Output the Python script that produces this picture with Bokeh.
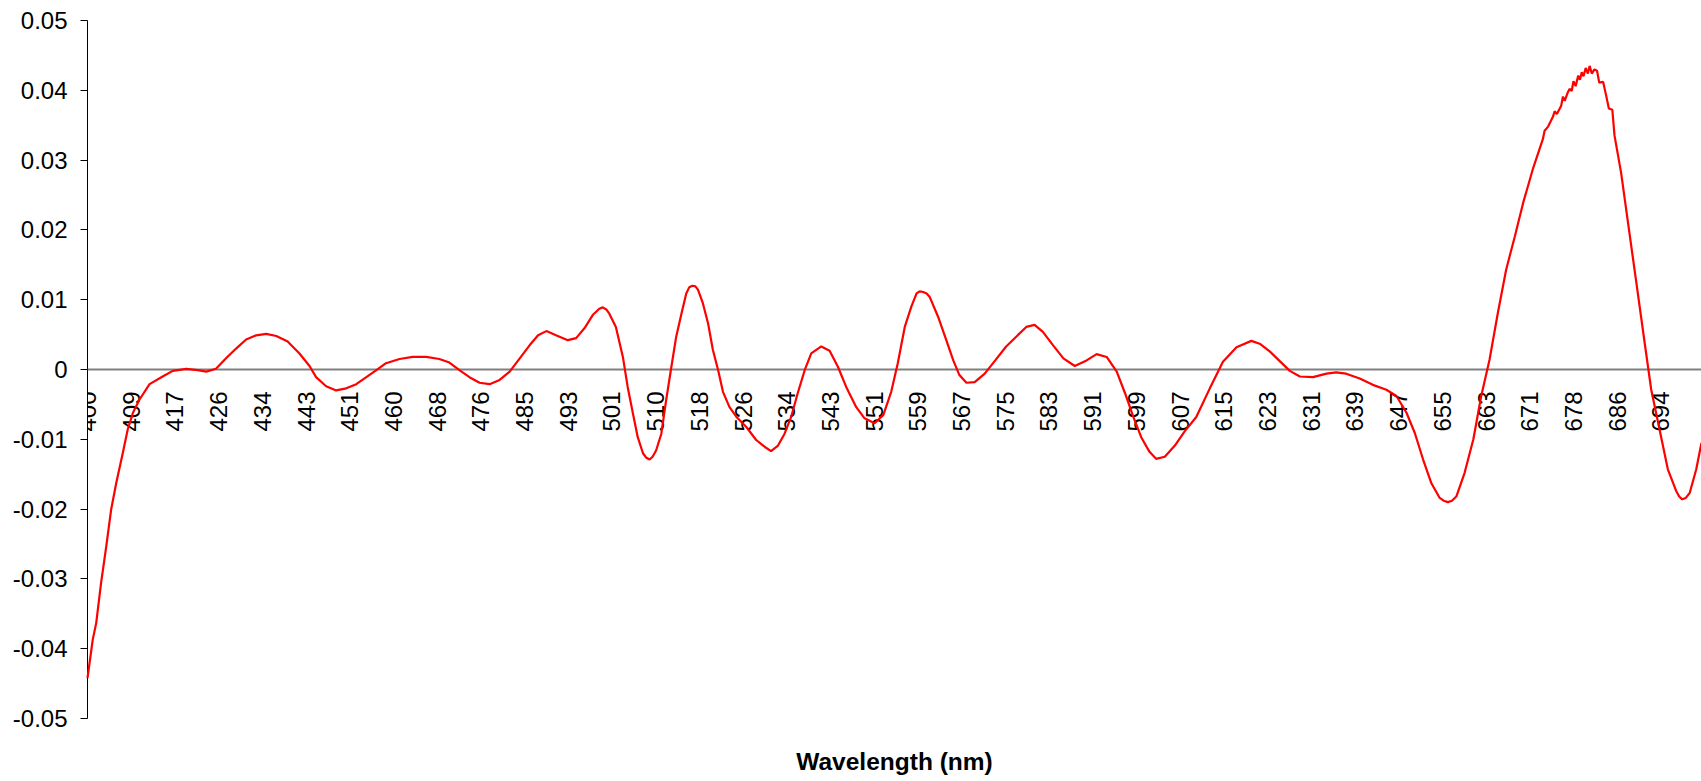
from math import pi
from bokeh.plotting import figure
from bokeh.models import Range1d, LinearAxis, FixedTicker, Span, LabelSet, ColumnDataSource
from bokeh.core.properties import value
from bokeh.embed import file_html
from bokeh.resources import INLINE

# ---- data ----
tick_labels = ["400", "409", "417", "426", "434", "443", "451", "460", "468", "476",
               "485", "493", "501", "510", "518", "526", "534", "543", "551", "559",
               "567", "575", "583", "591", "599", "607", "615", "623", "631", "639",
               "647", "655", "663", "671", "678", "686", "694"]

y_ticks = [-0.05, -0.04, -0.03, -0.02, -0.01, 0, 0.01, 0.02, 0.03, 0.04, 0.05]
y_tick_labels = ["-0.05", "-0.04", "-0.03", "-0.02", "-0.01", "0",
                 "0.01", "0.02", "0.03", "0.04", "0.05"]

# position along the category axis, in units of one labelled step
channel = [
    0.00, 0.12, 0.20, 0.31, 0.43, 0.54, 0.66, 0.81, 0.92, 1.04, 1.19, 1.42, 1.72, 1.95,
    2.26, 2.52, 2.72, 2.94, 3.17, 3.40, 3.63, 3.86, 4.09, 4.32, 4.58, 4.85, 5.08, 5.23,
    5.46, 5.69, 5.92, 6.15, 6.38, 6.61, 6.83, 7.14, 7.44, 7.75, 8.05, 8.28, 8.51, 8.74,
    8.97, 9.20, 9.43, 9.66, 9.89, 10.12, 10.31, 10.50, 10.72, 10.99, 11.18, 11.37, 11.56,
    11.71, 11.79, 11.87, 11.94, 12.09, 12.25, 12.36, 12.48, 12.59, 12.71, 12.78, 12.86,
    12.93, 13.01, 13.13, 13.24, 13.36, 13.47, 13.59, 13.70, 13.77, 13.84, 13.91, 13.97,
    14.08, 14.20, 14.31, 14.43, 14.54, 14.69, 14.85, 15.07, 15.30, 15.50, 15.64, 15.80,
    15.95, 16.10, 16.25, 16.41, 16.56, 16.79, 16.98, 17.17, 17.36, 17.59, 17.78, 18.01,
    18.21, 18.39, 18.54, 18.70, 18.85, 18.97, 19.04, 19.12, 19.20, 19.27, 19.46, 19.65,
    19.81, 19.95, 20.11, 20.30, 20.53, 20.77, 21.02, 21.25, 21.48, 21.67, 21.86, 22.09,
    22.33, 22.59, 22.86, 23.09, 23.32, 23.55, 23.74, 23.93, 24.11, 24.30, 24.45, 24.65,
    24.88, 25.10, 25.37, 25.68, 25.98, 26.29, 26.63, 26.82, 27.05, 27.28, 27.51, 27.74,
    28.04, 28.35, 28.57, 28.80, 29.11, 29.41, 29.72, 29.95, 30.18, 30.37, 30.56, 30.75,
    30.94, 31.03, 31.13, 31.22, 31.32, 31.51, 31.71, 31.89, 32.08, 32.27, 32.46, 32.66,
    32.85, 33.08, 33.30, 33.34, 33.42, 33.53, 33.57, 33.62, 33.72, 33.76, 33.80, 33.87,
    33.91, 33.96, 34.00, 34.05, 34.11, 34.15, 34.19, 34.23, 34.28, 34.33, 34.37, 34.42,
    34.48, 34.54, 34.59, 34.68, 34.75, 34.81, 34.89, 34.94, 35.09, 35.28, 35.44, 35.63,
    35.78, 35.97, 36.16, 36.35, 36.42, 36.49, 36.57, 36.66, 36.81, 36.93,
]

derivative = [
    -0.0442, -0.0387, -0.0363, -0.0306, -0.0253, -0.0201, -0.0162, -0.0119, -0.0086,
    -0.0062, -0.0043, -0.0021, -0.0010, -0.0002, 0.0001, -0.0001, -0.0003, 0.0001,
    0.0016, 0.0030, 0.0043, 0.0049, 0.0051, 0.0048, 0.0040, 0.0023, 0.0005, -0.0011,
    -0.0024, -0.0030, -0.0027, -0.0021, -0.0011, -0.0001, 0.0009, 0.0015, 0.0018,
    0.0018, 0.0015, 0.0010, -0.0001, -0.0011, -0.0019, -0.0021, -0.0015, -0.0003,
    0.0016, 0.0035, 0.0049, 0.0055, 0.0049, 0.0042, 0.0045, 0.0059, 0.0078,
    0.0087, 0.0089, 0.0086, 0.0080, 0.0061, 0.0018, -0.0025, -0.0063, -0.0097, -0.0120,
    -0.0126, -0.0129, -0.0125, -0.0116, -0.0092, -0.0044, 0.0004, 0.0047, 0.0080,
    0.0109, 0.0118, 0.0120, 0.0119, 0.0114, 0.0095, 0.0066, 0.0028, -0.0001, -0.0032,
    -0.0054, -0.0068, -0.0082, -0.0101, -0.0111, -0.0117, -0.0109, -0.0092, -0.0068,
    -0.0034, -0.0001, 0.0023, 0.0033, 0.0027, 0.0004, -0.0025, -0.0054, -0.0070,
    -0.0077, -0.0065, -0.0032, 0.0009, 0.0061, 0.0090, 0.0109, 0.0112, 0.0111, 0.0109,
    0.0104, 0.0076, 0.0042, 0.0013, -0.0008, -0.0019, -0.0018, -0.0006, 0.0013, 0.0033,
    0.0047, 0.0061, 0.0064, 0.0054, 0.0035, 0.0016, 0.0005, 0.0013, 0.0022, 0.0018,
    -0.0003, -0.0034, -0.0068, -0.0097, -0.0118, -0.0128, -0.0125, -0.0109, -0.0089,
    -0.0068, -0.0027, 0.0011, 0.0032, 0.0041, 0.0037, 0.0026, 0.0012, -0.0002, -0.0010,
    -0.0011, -0.0006, -0.0004, -0.0006, -0.0013, -0.0022, -0.0029, -0.0038, -0.0062,
    -0.0091, -0.0129, -0.0163, -0.0184, -0.0188, -0.0190, -0.0188, -0.0182, -0.0148,
    -0.0100, -0.0038, 0.0014, 0.0081, 0.0143, 0.0191, 0.0239, 0.0289, 0.0330, 0.0342,
    0.0348, 0.0362, 0.0370, 0.0366, 0.0378, 0.0391, 0.0385, 0.0397, 0.0402, 0.0399,
    0.0413, 0.0406, 0.0421, 0.0415, 0.0426, 0.0420, 0.0432, 0.0424, 0.0435, 0.0424,
    0.0430, 0.0428, 0.0411, 0.0412, 0.0392, 0.0374, 0.0372, 0.0335, 0.0282, 0.0196,
    0.0124, 0.0038, -0.0029, -0.0086, -0.0143, -0.0174, -0.0182, -0.0186, -0.0184,
    -0.0177, -0.0143, -0.0105,
]

FONT = "Liberation Sans"

p = figure(width=1701, height=781, output_backend="svg", toolbar_location=None,
           x_range=Range1d(0, 36.93), y_range=Range1d(-0.05, 0.05),
           x_axis_location=None, y_axis_location=None,
           min_border_left=87, min_border_right=0, min_border_top=20, min_border_bottom=63)
p.outline_line_color = None
p.background_fill_color = "white"
p.border_fill_color = "white"
for g in p.grid:
    g.visible = False

# y axis
yaxis = LinearAxis(
    ticker=FixedTicker(ticks=y_ticks, minor_ticks=[]),
    major_label_overrides={t: s for t, s in zip(y_ticks, y_tick_labels)},
    axis_line_color="black", axis_line_width=1,
    major_tick_out=7, major_tick_in=0, major_tick_line_color="black",
    minor_tick_line_color=None,
    major_label_standoff=13,
    major_label_text_font=FONT, major_label_text_font_size="24px",
    major_label_text_color="black",
)
p.add_layout(yaxis, "left")

# category axis line crossing at zero
p.add_layout(Span(location=0, dimension="width", line_color="#808080", line_width=2))

# category labels hanging below the zero line, reading bottom-to-top
label_src = ColumnDataSource(dict(x=list(range(len(tick_labels))),
                                  y=[0] * len(tick_labels),
                                  text=tick_labels))
p.add_layout(LabelSet(x="x", y="y", text="text", source=label_src,
                      angle=pi / 2, text_align="right", text_baseline="middle",
                      y_offset=-22,
                      text_font=value(FONT), text_font_size=value("24px"),
                      text_color="black"))

# axis title
title_axis = LinearAxis(
    ticker=FixedTicker(ticks=[], minor_ticks=[]),
    axis_label="Wavelength (nm)",
    axis_line_color=None, major_tick_line_color=None, minor_tick_line_color=None,
    major_label_text_font_size="0px",
    axis_label_standoff=29,
    axis_label_text_font=FONT, axis_label_text_font_size="24.5px",
    axis_label_text_font_style="bold", axis_label_text_color="black",
)
p.add_layout(title_axis, "below")

r = p.line(channel, derivative, line_color="#FF0000", line_width=2.2)
r.level = "overlay"

open("out.html", "w").write(file_html(p, INLINE))
